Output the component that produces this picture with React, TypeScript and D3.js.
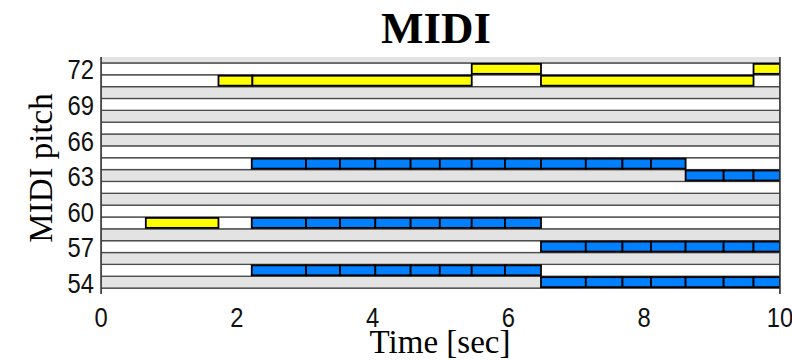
import { useEffect, useRef } from 'react'
import * as d3 from 'd3'

// piano roll range and labels
const pitchDomain = [53, 73]
const pitchTicks = [54, 57, 60, 63, 66, 69, 72]
const timeTicks = [0, 2, 4, 6, 8, 10]
const blackKeyClasses = [1, 3, 6, 8, 10]

// blue notes: per pitch, consecutive times are note boundaries
const blueNotes = [
  { pitch: 64, times: [2.22, 3.02, 3.52, 4.04, 4.56, 4.99, 5.46, 5.95, 6.48, 7.14, 7.68, 8.1, 8.61] },
  { pitch: 63, times: [8.61, 9.17, 9.61, 10.0] },
  { pitch: 59, times: [2.22, 3.02, 3.52, 4.04, 4.56, 4.99, 5.46, 5.95, 6.48] },
  { pitch: 57, times: [6.48, 7.14, 7.68, 8.1, 8.61, 9.17, 9.61, 10.0] },
  { pitch: 55, times: [2.22, 3.02, 3.52, 4.04, 4.56, 4.99, 5.46, 5.95, 6.48] },
  { pitch: 54, times: [6.48, 7.14, 7.68, 8.1, 8.61, 9.17, 9.61, 10.0] },
]

// yellow notes: [start, end, pitch]
const yellowNotes: [number, number, number][] = [
  [5.46, 6.48, 72],
  [9.61, 10.0, 72],
  [1.73, 2.23, 71],
  [2.23, 5.46, 71],
  [6.48, 9.61, 71],
  [0.66, 1.73, 59],
]

const SERIF = '"Liberation Serif", "Times New Roman", serif'
const SANS = '"Liberation Sans", Arial, sans-serif'

export default function App() {
  const svgRef = useRef<SVGSVGElement | null>(null)
  const width = 792
  const height = 360

  useEffect(() => {
    const svg = d3.select(svgRef.current)
    svg.selectAll('*').remove()

    const x = d3.scaleLinear().domain([0, 10]).range([101, 780])
    const y = d3.scaleLinear().domain(pitchDomain).range([294, 57])

    svg.append('defs').append('clipPath').attr('id', 'plot-clip')
      .append('rect')
      .attr('x', x(0)).attr('y', y(73))
      .attr('width', x(10) - x(0)).attr('height', y(53) - y(73))

    const plot = svg.append('g').attr('clip-path', 'url(#plot-clip)')

    // key rows
    const rows = d3.range(pitchDomain[0], pitchDomain[1] + 1)
    plot.selectAll('rect.row')
      .data(rows)
      .join('rect')
      .attr('class', 'row')
      .attr('x', x(0))
      .attr('width', x(10) - x(0))
      .attr('y', d => y(d + 0.5))
      .attr('height', d => y(d - 0.5) - y(d + 0.5))
      .attr('fill', d => blackKeyClasses.includes(d % 12) ? '#e3e3e3' : '#ffffff')
      .attr('stroke', '#4a4a4a')
      .attr('stroke-width', 1.3)

    // notes
    const blue: [number, number, number][] = []
    blueNotes.forEach(n => {
      for (let i = 0; i < n.times.length - 1; i++) blue.push([n.times[i], n.times[i + 1], n.pitch])
    })

    const drawNotes = (data: [number, number, number][], color: string, cls: string) => {
      plot.selectAll('rect.' + cls)
        .data(data)
        .join('rect')
        .attr('class', cls)
        .attr('x', d => x(d[0]))
        .attr('width', d => x(d[1]) - x(d[0]))
        .attr('y', d => y(d[2] + 0.42))
        .attr('height', d => y(d[2] - 0.42) - y(d[2] + 0.42))
        .attr('fill', color)
        .attr('stroke', '#000')
        .attr('stroke-width', 1.8)
    }
    drawNotes(yellowNotes, '#ffff00', 'yellow')
    drawNotes(blue, '#0080ff', 'blue')

    // axis side lines
    svg.selectAll('line.spine')
      .data([0, 10])
      .join('line')
      .attr('class', 'spine')
      .attr('x1', d => x(d)).attr('x2', d => x(d))
      .attr('y1', y(73)).attr('y2', y(53))
      .attr('stroke', '#333')
      .attr('stroke-width', 1.5)

    // tick labels (narrow, tall digits like the original)
    svg.selectAll('text.ytick')
      .data(pitchTicks)
      .join('text')
      .attr('class', 'ytick')
      .attr('transform', d => `translate(94,${y(d) + 1}) scale(0.88,1)`)
      .attr('text-anchor', 'end')
      .attr('dominant-baseline', 'central')
      .style('font-family', SANS)
      .style('font-size', '27px')
      .style('fill', '#111')
      .text(d => d)

    svg.selectAll('text.xtick')
      .data(timeTicks)
      .join('text')
      .attr('class', 'xtick')
      .attr('transform', d => `translate(${x(d)},327) scale(0.88,1)`)
      .attr('text-anchor', 'middle')
      .style('font-family', SANS)
      .style('font-size', '27px')
      .style('fill', '#111')
      .text(d => d)

    // titles
    svg.append('text')
      .attr('x', 436).attr('y', 43)
      .attr('text-anchor', 'middle')
      .style('font-family', SERIF)
      .style('font-weight', 'bold')
      .style('font-size', '45px')
      .text('MIDI')

    svg.append('text')
      .attr('x', 440).attr('y', 353)
      .attr('text-anchor', 'middle')
      .style('font-family', SERIF)
      .style('font-size', '33px')
      .text('Time [sec]')

    svg.append('text')
      .attr('transform', 'translate(52,168) rotate(-90)')
      .attr('text-anchor', 'middle')
      .style('font-family', SERIF)
      .style('font-size', '33px')
      .text('MIDI pitch')
  }, [])

  return (
    <svg
      ref={svgRef}
      width={width}
      height={height}
      style={{ position: 'absolute', left: 0, top: 0, background: '#fff' }}
    />
  )
}
